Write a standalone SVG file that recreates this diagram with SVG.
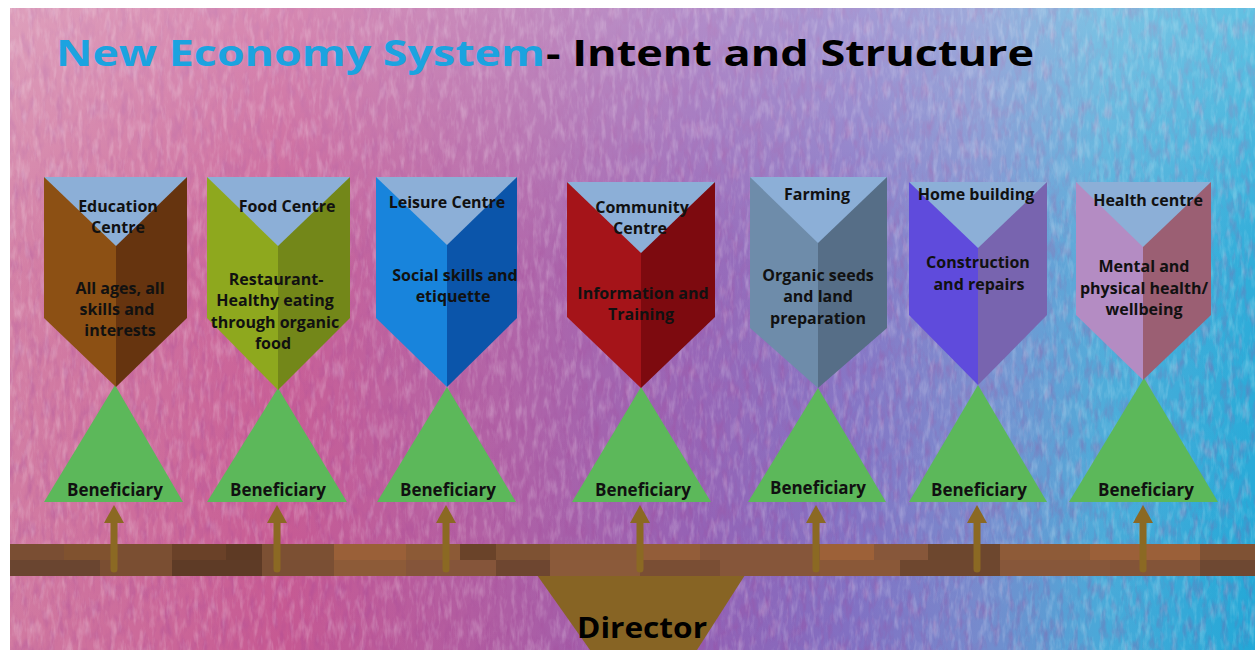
<svg xmlns="http://www.w3.org/2000/svg" width="1255" height="650" viewBox="0 0 1255 650">
<defs>
<linearGradient id="bg" x1="10" y1="0" x2="1255" y2="0" gradientUnits="userSpaceOnUse">
<stop offset="0" stop-color="#d0779f"/>
<stop offset="0.22" stop-color="#c55590"/>
<stop offset="0.4" stop-color="#ac5aa2"/>
<stop offset="0.55" stop-color="#915cb2"/>
<stop offset="0.68" stop-color="#7e6ec2"/>
<stop offset="0.78" stop-color="#7388cc"/>
<stop offset="0.88" stop-color="#44a8d8"/>
<stop offset="1" stop-color="#1ea6d6"/>
</linearGradient>
<linearGradient id="bgv" x1="0" y1="0" x2="0" y2="1">
<stop offset="0" stop-color="#ffffff" stop-opacity="0.3"/>
<stop offset="0.4" stop-color="#ffffff" stop-opacity="0.08"/>
<stop offset="1" stop-color="#ffffff" stop-opacity="0.02"/>
</linearGradient>
<filter id="texL" x="0" y="0" width="100%" height="100%">
<feTurbulence type="fractalNoise" baseFrequency="0.18 0.05" numOctaves="3" seed="5"/>
<feColorMatrix type="matrix" values="0 0 0 0 1  0 0 0 0 1  0 0 0 0 1  2.4 0 0 0 -1.1"/>
</filter>
<filter id="texD" x="0" y="0" width="100%" height="100%">
<feTurbulence type="fractalNoise" baseFrequency="0.14 0.05" numOctaves="3" seed="11"/>
<feColorMatrix type="matrix" values="0 0 0 0 0.35  0 0 0 0 0.05  0 0 0 0 0.3  0 2.4 0 0 -1.1"/>
</filter>
<marker id="ah" markerUnits="userSpaceOnUse" markerWidth="18" markerHeight="20" refX="0" refY="10" orient="auto">
<path d="M0,0 L18,10 L0,20 Z" fill="#8b6923"/>
</marker>
<style>
.top{fill:#8cafd7}
.t{font-family:"Open Sans","DejaVu Sans",sans-serif;font-weight:700;font-size:16px;fill:#111;text-anchor:middle}
.b{font-family:"Open Sans","DejaVu Sans",sans-serif;font-weight:700;font-size:17px;fill:#111;text-anchor:middle}
.ben{fill:#5cb85a}
.arr{stroke:#8b6923;stroke-width:7;stroke-linecap:round;fill:none}
</style>
</defs>
<rect x="0" y="0" width="1255" height="650" fill="#ffffff"/>
<g id="background">
<rect x="10" y="8" width="1245" height="642" fill="url(#bg)"/>
<rect x="10" y="8" width="1245" height="642" filter="url(#texD)" opacity="0.3"/>
<rect x="10" y="8" width="1245" height="642" filter="url(#texL)" opacity="0.22"/>
<rect x="10" y="8" width="1245" height="642" fill="url(#bgv)"/>
</g>
<g id="title">
<text x="56" y="66" font-family="'Open Sans','DejaVu Sans',sans-serif" font-weight="700" font-size="36" fill="#1ba3e0" textLength="489" lengthAdjust="spacingAndGlyphs">New Economy System</text>
<text x="546" y="66" font-family="'Open Sans','DejaVu Sans',sans-serif" font-weight="700" font-size="36" fill="#000000" textLength="488" lengthAdjust="spacingAndGlyphs">- Intent and Structure</text>
</g>
<g id="director">
<polygon points="537,575 745,575 697,650 590,650" fill="#876424"/>
<text x="642" y="638" font-family="'Open Sans','DejaVu Sans',sans-serif" font-weight="700" font-size="28" fill="#000" text-anchor="middle" textLength="130" lengthAdjust="spacingAndGlyphs">Director</text>
</g>
<g id="bar">
<rect x="10" y="544" width="1245" height="32" fill="#84553a"/>
<rect x="10" y="544" width="54" height="16" fill="#7a4e33"/>
<rect x="64" y="544" width="54" height="16" fill="#80522f"/>
<rect x="118" y="544" width="54" height="16" fill="#7b4f32"/>
<rect x="172" y="544" width="54" height="16" fill="#6a4128"/>
<rect x="226" y="544" width="36" height="16" fill="#5e3a24"/>
<rect x="262" y="544" width="72" height="16" fill="#7c5033"/>
<rect x="334" y="544" width="72" height="16" fill="#9a6038"/>
<rect x="406" y="544" width="54" height="16" fill="#8c5a36"/>
<rect x="460" y="544" width="36" height="16" fill="#6a4329"/>
<rect x="496" y="544" width="54" height="16" fill="#7e5233"/>
<rect x="550" y="544" width="90" height="16" fill="#8b5a38"/>
<rect x="640" y="544" width="60" height="16" fill="#935d39"/>
<rect x="700" y="544" width="120" height="16" fill="#86563a"/>
<rect x="820" y="544" width="54" height="16" fill="#9d6138"/>
<rect x="874" y="544" width="54" height="16" fill="#87573a"/>
<rect x="928" y="544" width="72" height="16" fill="#6d472e"/>
<rect x="1000" y="544" width="90" height="16" fill="#8e5b38"/>
<rect x="1090" y="544" width="110" height="16" fill="#9b6039"/>
<rect x="1200" y="544" width="55" height="16" fill="#7f5234"/>
<rect x="10" y="560" width="90" height="16" fill="#6a4530"/>
<rect x="100" y="560" width="72" height="16" fill="#7a4e32"/>
<rect x="172" y="560" width="90" height="16" fill="#5e3b26"/>
<rect x="262" y="560" width="72" height="16" fill="#7a4f34"/>
<rect x="334" y="560" width="72" height="16" fill="#8d5b38"/>
<rect x="406" y="560" width="90" height="16" fill="#85553a"/>
<rect x="496" y="560" width="54" height="16" fill="#6e4630"/>
<rect x="550" y="560" width="90" height="16" fill="#8b5a3a"/>
<rect x="640" y="560" width="80" height="16" fill="#7a4e34"/>
<rect x="720" y="560" width="100" height="16" fill="#86563a"/>
<rect x="820" y="560" width="80" height="16" fill="#8a5838"/>
<rect x="900" y="560" width="100" height="16" fill="#6e472f"/>
<rect x="1000" y="560" width="110" height="16" fill="#87573a"/>
<rect x="1110" y="560" width="90" height="16" fill="#835438"/>
<rect x="1200" y="560" width="55" height="16" fill="#6e4832"/>
</g>
<g id="beneficiary-1"><polygon class="ben" points="115,385 183,502 44,502"/><text class="b" x="115" y="496">Beneficiary</text></g>
<g id="beneficiary-2"><polygon class="ben" points="278,388 347,502 207,502"/><text class="b" x="278" y="496">Beneficiary</text></g>
<g id="beneficiary-3"><polygon class="ben" points="447,387 516,502 377,502"/><text class="b" x="448" y="496">Beneficiary</text></g>
<g id="beneficiary-4"><polygon class="ben" points="641,387 711,502 572,502"/><text class="b" x="643" y="496">Beneficiary</text></g>
<g id="beneficiary-5"><polygon class="ben" points="818,388 886,502 748,502"/><text class="b" x="818" y="494">Beneficiary</text></g>
<g id="beneficiary-6"><polygon class="ben" points="978,385 1047,502 909,502"/><text class="b" x="979" y="496">Beneficiary</text></g>
<g id="beneficiary-7"><polygon class="ben" points="1144,378 1218,502 1069,502"/><text class="b" x="1146" y="496">Beneficiary</text></g>
<g id="education-centre">
<polygon points="44,177 116,177 116,387 44,318" fill="#8c5014"/>
<polygon points="116,177 187,177 187,318 116,387" fill="#66340f"/>
<polygon class="top" points="44,177 187,177 116,246"/>
<text class="t" x="118" y="212">Education</text>
<text class="t" x="118" y="233">Centre</text>
<text class="t" x="120" y="294">All ages, all</text>
<text class="t" x="117" y="315">skills and</text>
<text class="t" x="120" y="336">interests</text>
</g>
<g id="food-centre">
<polygon points="207,177 278,177 278,390 207,318" fill="#8ea81e"/>
<polygon points="278,177 350,177 350,318 278,390" fill="#738719"/>
<polygon class="top" points="207,177 350,177 278,246"/>
<text class="t" x="287" y="212">Food Centre</text>
<text class="t" x="276" y="285">Restaurant-</text>
<text class="t" x="275" y="306">Healthy eating</text>
<text class="t" x="275" y="328">through organic</text>
<text class="t" x="273" y="349">food</text>
</g>
<g id="leisure-centre">
<polygon points="376,177 447,177 447,387 376,318" fill="#1884dc"/>
<polygon points="447,177 517,177 517,318 447,387" fill="#0b55aa"/>
<polygon class="top" points="376,177 517,177 447,245"/>
<text class="t" x="447" y="208">Leisure Centre</text>
<text class="t" x="455" y="281">Social skills and</text>
<text class="t" x="453" y="302">etiquette</text>
</g>
<g id="community-centre">
<polygon points="567,182 641,182 641,388 567,317" fill="#a51419"/>
<polygon points="641,182 715,182 715,317 641,388" fill="#7d0a0f"/>
<polygon class="top" points="567,182 715,182 641,253"/>
<text class="t" x="642" y="213">Community</text>
<text class="t" x="640" y="234">Centre</text>
<text class="t" x="643" y="299">Information and</text>
<text class="t" x="641" y="320">Training</text>
</g>
<g id="farming">
<polygon points="750,177 818,177 818,388 750,328" fill="#6e8caa"/>
<polygon points="818,177 887,177 887,328 818,388" fill="#566e87"/>
<polygon class="top" points="750,177 887,177 818,243"/>
<text class="t" x="817" y="200">Farming</text>
<text class="t" x="818" y="281">Organic seeds</text>
<text class="t" x="818" y="302">and land</text>
<text class="t" x="818" y="324">preparation</text>
</g>
<g id="home-building">
<polygon points="909,182 978,182 978,385 909,315" fill="#5f4bdc"/>
<polygon points="978,182 1047,182 1047,315 978,385" fill="#7864af"/>
<polygon class="top" points="909,182 1047,182 978,248"/>
<text class="t" x="976" y="200">Home building</text>
<text class="t" x="978" y="268">Construction</text>
<text class="t" x="979" y="290">and repairs</text>
</g>
<g id="health-centre">
<polygon points="1076,182 1143,182 1143,380 1076,315" fill="#b48cc3"/>
<polygon points="1143,182 1211,182 1211,315 1143,380" fill="#9b5f73"/>
<polygon class="top" points="1076,182 1211,182 1143,247"/>
<text class="t" x="1148" y="206">Health centre</text>
<text class="t" x="1144" y="272">Mental and</text>
<text class="t" x="1144" y="294">physical health/</text>
<text class="t" x="1144" y="315">wellbeing</text>
</g>
<g id="connectors">
<line class="arr" x1="114" y1="569" x2="114" y2="523" marker-end="url(#ah)"/>
<line class="arr" x1="277" y1="569" x2="277" y2="523" marker-end="url(#ah)"/>
<line class="arr" x1="446" y1="569" x2="446" y2="523" marker-end="url(#ah)"/>
<line class="arr" x1="640" y1="569" x2="640" y2="523" marker-end="url(#ah)"/>
<line class="arr" x1="816" y1="569" x2="816" y2="523" marker-end="url(#ah)"/>
<line class="arr" x1="977" y1="569" x2="977" y2="523" marker-end="url(#ah)"/>
<line class="arr" x1="1143" y1="569" x2="1143" y2="523" marker-end="url(#ah)"/>
</g>
</svg>
